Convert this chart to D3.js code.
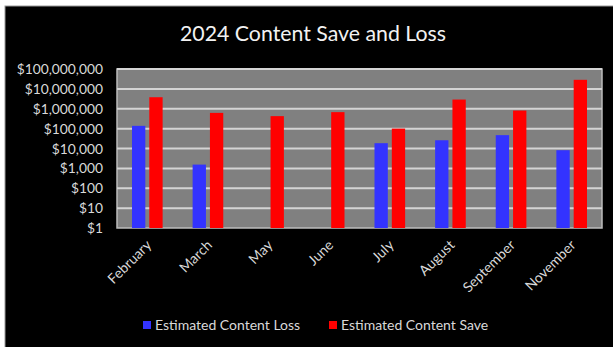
<!DOCTYPE html>
<meta charset="utf-8">
<style>
body { margin: 0; background: #fff; }
text { font-family: Lato, "Open Sans", sans-serif; fill: #d9d9d9; }
.title { font-size: 21.3px; fill: #f2f2f2; }
.ylab { font-size: 13.8px; }
.xlab { font-size: 14px; }
.legend text { font-size: 14px; }
.grid line { stroke: #d4d4d4; stroke-width: 2px; }
</style>
<svg width="613" height="347"></svg>
<script src="https://cdn.jsdelivr.net/npm/d3@7"></script>
<script>

var months = ["February", "March", "May", "June", "July", "August", "September", "November"];
var series = ["Estimated Content Loss", "Estimated Content Save"];
var lossValues = [138000, 1550, null, null, 18500, 26000, 47000, 8200];
var saveValues = [3800000, 620000, 425000, 675000, 100000, 2900000, 810000, 28600000];
var yTicks = [1, 10, 100, 1000, 10000, 100000, 1000000, 10000000, 100000000];
var colors = ["#3333ff", "#ff0000"];

var svg = d3.select("svg");

// outer frame: chart sits slightly inset, white strip top/left
svg.append("rect")
    .attr("x", 5).attr("y", 6)
    .attr("width", 613).attr("height", 347)
    .attr("fill", "#000")
    .attr("stroke", "#9a9a9a")
    .attr("stroke-width", 1);

var plot = {left: 117, right: 602, top: 69, bottom: 228};

var y = d3.scaleLog()
    .domain([1, 1e8])
    .range([plot.bottom, plot.top]);

var x0 = d3.scaleBand()
    .domain(months)
    .range([plot.left, plot.right])
    .padding(0);

var x1 = d3.scaleBand()
    .domain(series)
    .range([0, x0.bandwidth()])
    .paddingInner(0.23)
    .paddingOuter(0.866);

svg.append("text")
    .attr("class", "title")
    .attr("x", 313).attr("y", 41)
    .attr("text-anchor", "middle")
    .text("2024 Content Save and Loss");

svg.append("rect")
    .attr("x", plot.left).attr("y", plot.top)
    .attr("width", plot.right - plot.left)
    .attr("height", plot.bottom - plot.top)
    .attr("fill", "#808080")
    .attr("stroke", "#bcbcbc")
    .attr("stroke-width", 1.5);

svg.append("g")
    .attr("class", "grid")
  .selectAll("line")
    .data(yTicks.slice(1))
  .enter().append("line")
    .attr("x1", plot.left).attr("x2", plot.right)
    .attr("y1", function(d) { return y(d); })
    .attr("y2", function(d) { return y(d); });

svg.append("g")
  .selectAll("text")
    .data(yTicks)
  .enter().append("text")
    .attr("class", "ylab")
    .attr("x", 103)
    .attr("y", function(d) { return y(d) + 5; })
    .attr("text-anchor", "end")
    .text(function(d) { return "$" + d3.format(",")(d); });

var rows = months.map(function(m, i) {
  return {month: m, vals: [lossValues[i], saveValues[i]]};
});

var groups = svg.append("g")
  .selectAll("g")
    .data(rows)
  .enter().append("g")
    .attr("transform", function(d) { return "translate(" + x0(d.month) + ",0)"; });

groups.selectAll("rect")
    .data(function(d) {
      return d.vals.map(function(v, i) { return {key: series[i], value: v, i: i}; })
        .filter(function(e) { return e.value != null; });
    })
  .enter().append("rect")
    .attr("x", function(d) { return x1(d.key); })
    .attr("width", x1.bandwidth())
    .attr("y", function(d) { return y(d.value); })
    .attr("height", function(d) { return plot.bottom - y(d.value); })
    .attr("fill", function(d) { return colors[d.i]; });

svg.append("g")
  .selectAll("text")
    .data(months)
  .enter().append("text")
    .attr("class", "xlab")
    .attr("text-anchor", "end")
    .attr("transform", function(d) {
      return "translate(" + (x0(d) + x0.bandwidth() / 2 + 5) + "," + 246 + ") rotate(-45)";
    })
    .text(function(d) { return d; });

var legendX = [143, 329];
var legend = svg.append("g").attr("class", "legend")
  .selectAll("g")
    .data(series)
  .enter().append("g")
    .attr("transform", function(d, i) { return "translate(" + legendX[i] + ",321)"; });

legend.append("rect")
    .attr("width", 8).attr("height", 8)
    .attr("fill", function(d, i) { return colors[i]; });

legend.append("text")
    .attr("x", 12).attr("y", 9)
    .text(function(d) { return d; });

</script>
